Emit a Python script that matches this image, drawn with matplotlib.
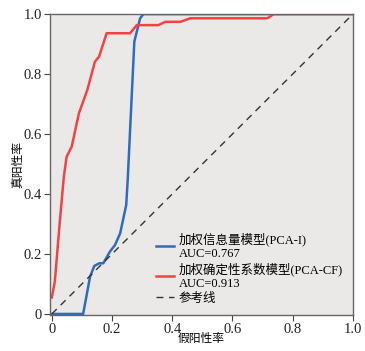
# curva ROC de los dos modelos
import matplotlib.pyplot as plt

plt.rcParams['font.family'] = ['Liberation Serif', 'Noto Sans CJK SC']

# datos
fpr_i = [0, 0.104, 0.127, 0.141, 0.158, 0.171, 0.193, 0.21, 0.227, 0.247, 0.252, 0.274, 0.293, 0.304, 1.0]
tpr_i = [0, 0, 0.124, 0.16, 0.169, 0.169, 0.208, 0.23, 0.269, 0.363, 0.447, 0.908, 0.985, 1.0, 1.0]

fpr_cf = [0, 0.01, 0.027, 0.04, 0.049, 0.066, 0.09, 0.118, 0.143, 0.157, 0.182, 0.26, 0.282,
          0.354, 0.377, 0.427, 0.46, 0.716, 0.737, 1.0]
tpr_cf = [0.055, 0.108, 0.313, 0.458, 0.524, 0.558, 0.669, 0.747, 0.841, 0.858, 0.936, 0.936, 0.963,
          0.963, 0.974, 0.974, 0.986, 0.986, 1.0, 1.0]

etiquetas = ['加权信息量模型(PCA-I)\nAUC=0.767', '加权确定性系数模型(PCA-CF)\nAUC=0.913', '参考线']
ticks = [0, 0.2, 0.4, 0.6, 0.8, 1.0]
tick_labels = ['0', '0.2', '0.4', '0.6', '0.8', '1.0']

fig = plt.figure(figsize=(3.65, 3.51), dpi=100)
ax = fig.add_axes([0.137, 0.103, 0.830, 0.857])
ax.set_facecolor('#ebe9e7')

ax.plot(fpr_i, tpr_i, color='#2e6cc0', lw=1.8, label=etiquetas[0])
ax.plot(fpr_cf, tpr_cf, color='#f04444', lw=1.8, label=etiquetas[1])
ax.plot([0, 1], [0, 1], color='#333333', lw=1.0, ls=(0, (5, 4)), label=etiquetas[2])

ax.set_xlim(-0.006, 1.0)
ax.set_ylim(-0.003, 1.0)
ax.set_xticks(ticks)
ax.set_xticklabels(tick_labels)
ax.set_yticks(ticks)
ax.set_yticklabels(tick_labels)
ax.tick_params(labelsize=10.5, length=4, width=0.8, color='#444444', pad=2, labelcolor='#222222')

for s in ax.spines.values():
    s.set_color('#666666')
    s.set_linewidth(1.0)

ax.set_xlabel('假阳性率', fontsize=8.5, labelpad=-2)
ax.set_ylabel('真阳性率', fontsize=8.5, labelpad=-1)

leg = ax.legend(loc='lower left', bbox_to_anchor=(0.32, 0.005), frameon=False, fontsize=9,
                handlelength=1.5, handletextpad=0.35, labelspacing=0.2, borderpad=0.2)

plt.savefig('out.png', dpi=100)
